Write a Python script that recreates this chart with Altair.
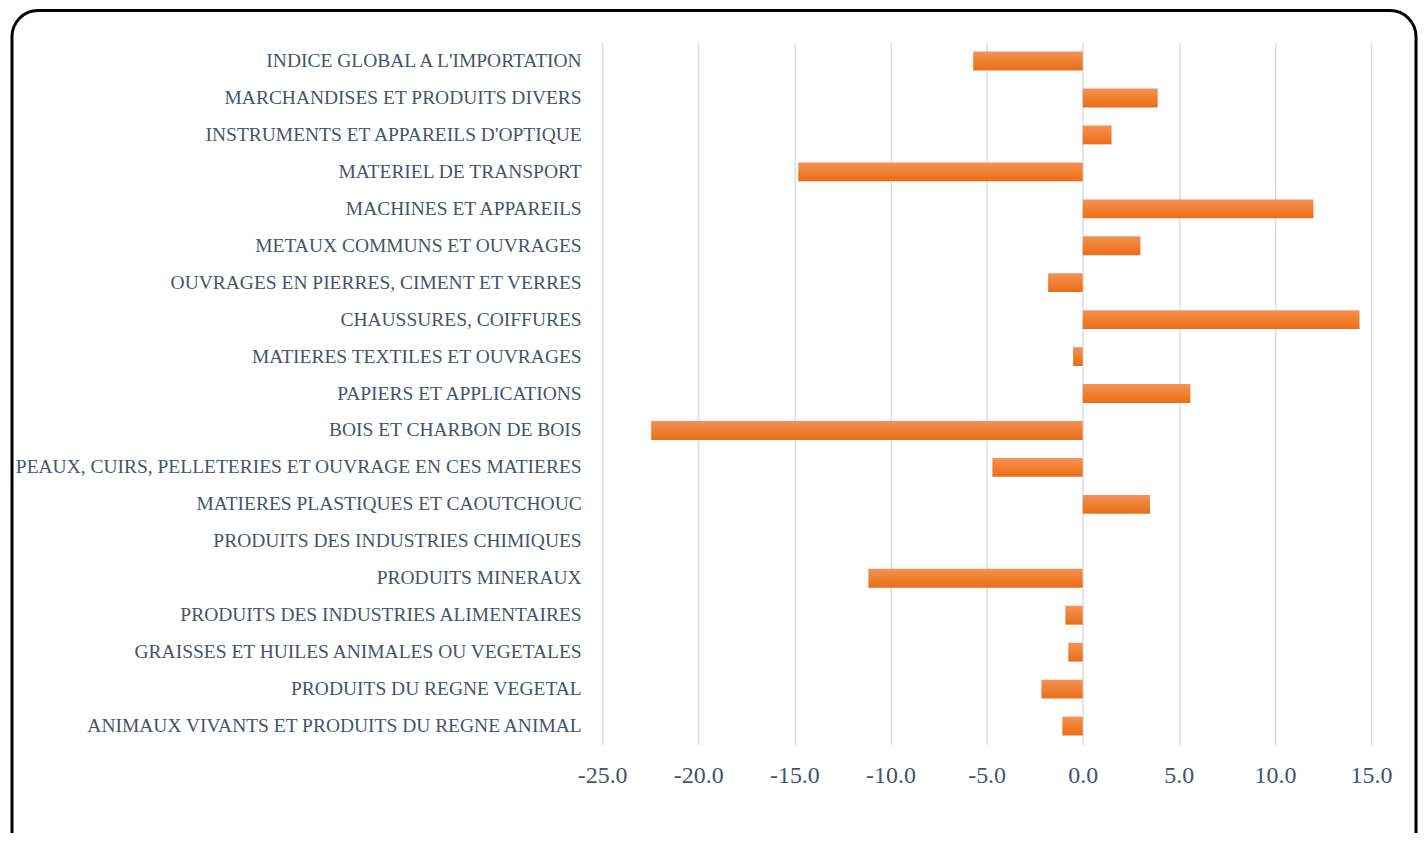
import altair as alt
import pandas as pd

categories = [
    "INDICE GLOBAL A L'IMPORTATION",
    "MARCHANDISES ET PRODUITS DIVERS",
    "INSTRUMENTS ET APPAREILS D'OPTIQUE",
    "MATERIEL DE TRANSPORT",
    "MACHINES ET APPAREILS",
    "METAUX COMMUNS ET OUVRAGES",
    "OUVRAGES EN PIERRES, CIMENT ET VERRES",
    "CHAUSSURES, COIFFURES",
    "MATIERES TEXTILES ET OUVRAGES",
    "PAPIERS ET APPLICATIONS",
    "BOIS ET CHARBON DE BOIS",
    "PEAUX, CUIRS, PELLETERIES ET OUVRAGE EN CES MATIERES",
    "MATIERES PLASTIQUES ET CAOUTCHOUC",
    "PRODUITS DES INDUSTRIES CHIMIQUES",
    "PRODUITS MINERAUX",
    "PRODUITS DES INDUSTRIES ALIMENTAIRES",
    "GRAISSES ET HUILES ANIMALES OU VEGETALES",
    "PRODUITS DU REGNE VEGETAL",
    "ANIMAUX VIVANTS ET PRODUITS DU REGNE ANIMAL",
]
values = [-5.7, 3.9, 1.5, -14.8, 12.0, 3.0, -1.8, 14.4, -0.5, 5.6,
          -22.45, -4.7, 3.5, 0.0, -11.15, -0.9, -0.75, -2.15, -1.06]
x_ticks = [-25, -20, -15, -10, -5, 0, 5, 10, 15]

df = pd.DataFrame({"cat": categories, "val": values})

font = "Liberation Serif"
label_color = "#44546A"

gradient = alt.Gradient(
    gradient="linear",
    stops=[
        alt.GradientStop(color="#F29359", offset=0),
        alt.GradientStop(color="#F07E2C", offset=0.55),
        alt.GradientStop(color="#E86D1C", offset=1),
    ],
    x1=0, x2=0, y1=0, y2=1,
)

bars = alt.Chart(df).mark_bar(color=gradient).encode(
    x=alt.X(
        "val:Q",
        scale=alt.Scale(domain=[-25, 15], nice=False, zero=False),
        axis=alt.Axis(
            values=x_ticks, title=None, domain=False, ticks=False,
            labelExpr="replace(format(datum.value, '.1f'), '\u2212', '-')",
            labelFlush=False, labelOverlap=False,
            grid=True, gridColor="#D9DEE6", gridWidth=1.5,
            labelFont=font, labelFontSize=24, labelColor=label_color,
            labelPadding=19,
        ),
    ),
    y=alt.Y(
        "cat:N",
        sort=categories,
        scale=alt.Scale(paddingInner=0.49, paddingOuter=0.245),
        axis=alt.Axis(
            title=None, domain=False, ticks=False, grid=False,
            labelFont=font, labelFontSize=19.5, labelColor=label_color,
            labelPadding=21, labelLimit=800,
        ),
    ),
)

border = alt.Chart(pd.DataFrame({"k": [0]})).mark_rect(
    fill=None, fillOpacity=0, stroke="black", strokeWidth=3, cornerRadius=26
).encode(
    x=alt.value(-591), x2=alt.value(815),
    y=alt.value(-32), y2=alt.value(830),
)

chart = alt.layer(bars, border).properties(
    width=770,
    height=703,
    autosize=alt.AutoSizeParams(type="none"),
    padding={"left": 595, "top": 34, "right": 47, "bottom": 88},
    background="white",
).configure_view(stroke=None)

chart.save("out.html", embed_options={"renderer": "svg", "actions": False})
